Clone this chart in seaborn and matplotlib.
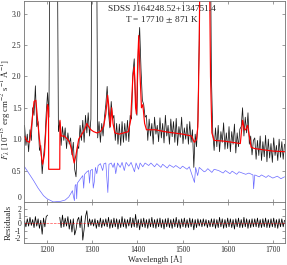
import numpy as np
import pandas as pd
import matplotlib
matplotlib.use("Agg")
import matplotlib.pyplot as plt
import seaborn as sns

wl = np.arange(1150, 1727, 3)
flux = [1.22, 0.90, 1.08, 0.80, 1.15, 0.98, 1.50, 1.38, 1.85, 1.20,
        1.28, 0.82, 0.90, 0.45, 0.72, 0.95, 1.42, 1.74, 1.35, 5.0,
        5.0, 5.0, 5.0, 5.0, 5.0, 1.12, 1.28, 0.90, 1.20, 0.98,
        1.18, 0.85, 1.10, 0.92, 1.02, 0.75, 0.95, 0.52, 0.40, 0.90,
        0.85, 1.22, 0.98, 1.30, 0.95, 1.38, 1.10, 1.42, 1.05, 1.32,
        5.0, 5.0, 5.0, 5.0, 1.02, 1.28, 0.95, 1.25, 1.05, 1.35,
        1.55, 1.84, 1.42, 1.18, 1.60, 1.32, 1.38, 0.98, 1.25, 0.92,
        1.24, 0.90, 1.28, 0.95, 1.25, 0.98, 1.30, 0.96, 1.38, 1.32,
        2.05, 2.28, 1.58, 1.38, 2.42, 2.78, 2.12, 1.62, 1.55, 1.35,
        1.38, 0.98, 1.32, 1.05, 1.25, 0.92, 1.35, 1.08, 1.22, 0.96,
        1.34, 1.02, 1.25, 0.94, 1.38, 1.05, 1.22, 0.92, 1.32, 1.04,
        1.28, 0.95, 1.33, 0.90, 1.20, 1.03, 1.35, 0.93, 1.18, 1.00,
        1.24, 0.92, 1.28, 0.95, 1.15, 0.55, 1.08, 0.88, 1.30, 2.60,
        5.0, 5.0, 5.0, 5.0, 5.0, 5.0, 5.0, 5.0, 2.00, 1.10,
        0.82, 1.18, 0.88, 1.22, 0.80, 1.12, 0.95, 1.26, 0.84, 1.10,
        0.85, 1.20, 0.80, 1.12, 0.92, 1.24, 0.78, 1.10, 0.88, 1.16,
        1.20, 1.50, 1.05, 1.35, 1.10, 1.42, 0.92, 1.05, 0.75, 0.98,
        1.02, 0.68, 0.98, 0.74, 1.05, 0.66, 0.96, 0.72, 1.06, 0.64,
        1.00, 0.70, 0.93, 0.63, 1.02, 0.74, 0.90, 0.66, 1.00, 0.71,
        0.96, 0.68, 0.92]

# smoothed spectrum
red_wl = [1150, 1155, 1161, 1166, 1171, 1175, 1179, 1183, 1187, 1190,
          1194, 1198, 1201, 1203, 1203.5, 1228, 1228.5, 1231, 1238, 1245,
          1250, 1255, 1260, 1264, 1270, 1277, 1283, 1288, 1292, 1297,
          1303, 1310, 1318, 1325, 1330, 1334, 1337, 1340, 1343, 1346,
          1350, 1360, 1370, 1380, 1385, 1390, 1393, 1396, 1398, 1401,
          1403, 1406, 1409, 1412, 1416, 1420, 1440, 1460, 1480, 1500,
          1520, 1526, 1531, 1534, 1537, 1540, 1558, 1562, 1565, 1570,
          1590, 1610, 1628, 1633, 1637, 1640, 1644, 1648, 1652, 1660,
          1680, 1700, 1726]
red_flux = [1.05, 0.97, 0.95, 1.25, 1.6, 1.62, 1.3, 1.0, 0.75, 0.6,
            0.75, 1.25, 1.55, 1.5, 0.52, 0.52, 1.3, 1.05, 1.05, 1.0,
            0.95, 0.8, 0.62, 0.75, 1.0, 1.08, 1.15, 1.25, 1.2, 1.15,
            1.12, 1.1, 1.12, 1.2, 1.4, 1.7, 1.5, 1.2, 1.5, 1.25,
            1.1, 1.08, 1.1, 1.12, 1.3, 2.0, 2.15, 1.5, 1.4, 2.3,
            2.65, 2.0, 1.5, 1.55, 1.25, 1.15, 1.15, 1.12, 1.1, 1.08,
            1.05, 0.95, 1.0, 1.2, 2.5, 5.0, 5.0, 2.0, 1.1, 0.98,
            0.97, 0.95, 0.93, 1.3, 1.15, 1.15, 1.22, 1.05, 0.87, 0.85,
            0.83, 0.81, 0.8]

# white dwarf model
blue_wl = [1150, 1160, 1170, 1180, 1192, 1200, 1214, 1230, 1240, 1248,
           1253, 1256, 1258, 1260.5, 1262, 1264, 1265.5, 1267, 1272, 1276,
           1279, 1281, 1283, 1288, 1292, 1294, 1296, 1300, 1302.2, 1304.5,
           1307, 1310, 1313, 1318, 1323, 1326, 1330, 1334.5, 1337, 1342,
           1346, 1349, 1352, 1356, 1362, 1366, 1371, 1375, 1381, 1386,
           1393.5, 1397, 1402.5, 1406, 1412, 1417, 1425, 1430, 1438, 1443,
           1452, 1456, 1466, 1471, 1480, 1485, 1495, 1500, 1510, 1515,
           1526.5, 1529, 1533.5, 1537, 1548, 1551, 1556, 1565, 1570, 1580,
           1590, 1595, 1605, 1610, 1620, 1625, 1640, 1647, 1656, 1657.5,
           1660, 1670, 1675, 1685, 1690, 1700, 1710, 1718, 1726]
blue_flux = [0.56, 0.45, 0.34, 0.22, 0.10, 0.05, 0.00, 0.01, 0.03, 0.08,
             0.14, 0.18, 0.10, 0.02, 0.26, 0.28, 0.05, 0.30, 0.35, 0.39,
             0.42, 0.22, 0.44, 0.48, 0.50, 0.30, 0.50, 0.52, 0.22, 0.32,
             0.55, 0.45, 0.58, 0.61, 0.50, 0.61, 0.62, 0.15, 0.60, 0.62,
             0.55, 0.62, 0.45, 0.62, 0.55, 0.63, 0.50, 0.63, 0.57, 0.63,
             0.48, 0.62, 0.52, 0.62, 0.56, 0.62, 0.58, 0.62, 0.56, 0.61,
             0.55, 0.60, 0.54, 0.59, 0.55, 0.58, 0.53, 0.57, 0.52, 0.56,
             0.31, 0.55, 0.42, 0.55, 0.48, 0.49, 0.53, 0.47, 0.52, 0.50,
             0.46, 0.50, 0.45, 0.49, 0.44, 0.48, 0.44, 0.46, 0.43, 0.21,
             0.43, 0.40, 0.43, 0.39, 0.42, 0.38, 0.41, 0.37, 0.40]

# residuals on the same grid, nan = masked
nan = np.nan
resid = [0.3, -0.5, 0.6, -0.4, 0.8, -0.3, 0.5, -0.6, 0.9, -0.4,
         0.6, -0.7, 0.4, -1.5, 0.7, -0.5, 0.9, 1.1, nan, nan,
         nan, nan, nan, nan, nan, nan, 0.8, -0.6, 1.1, -0.5,
         0.7, -0.4, 0.9, -0.8, 0.5, -1.2, 0.6, -1.6, -0.9, 0.4,
         0.8, -0.6, 1.0, -2.3, -0.8, 0.9, 1.7, -0.5, 0.6, -0.3,
         0.5, -0.4, 0.6, -0.7, 0.4, -0.5, 0.7, -0.6, 0.5, -0.4,
         0.6, -0.5, 0.8, -0.7, 0.5, -0.6, 0.7, -0.5, 0.6, -0.8,
         0.5, -0.6, 0.9, -0.5, 0.6, -0.7, 0.5, -0.4, 0.8, -0.6,
         0.7, -0.5, 1.2, -0.6, 0.5, -0.9, 0.6, -0.5, 0.7, -0.6,
         0.5, -0.7, 0.6, -0.5, 0.8, -0.6, 0.5, -0.7, 0.6, -0.5,
         0.7, -0.6, 0.5, -0.8, 0.6, -0.5, 0.7, -0.6, 0.5, -0.7,
         0.6, -0.5, 0.8, -0.6, 0.5, -0.7, 0.6, -0.5, 0.7, -0.6,
         0.5, -0.6, 0.7, -0.5, 0.6, -0.9, 0.5, -0.6, 0.6, -0.4,
         0.5, -0.5, 0.6, -0.4, 0.5, -0.6, 0.4, -0.5, 0.6, -0.5,
         0.6, -0.7, 0.5, -0.6, 0.8, -0.5, 0.6, -0.7, 0.5, -0.6,
         0.7, -0.5, 0.6, -0.6, 0.5, -0.8, 0.6, -0.5, 0.7, -0.6,
         0.5, -0.6, 0.8, -0.5, 0.6, -0.7, 0.5, -0.6, 0.6, -0.5,
         0.6, -0.5, 0.7, -0.6, 0.5, -0.6, 0.6, -0.5, 0.7, -0.6,
         0.5, -0.6, 0.6, -0.5, 0.7, -0.6, 0.5, -0.7, 0.6, -0.5,
         0.6, -0.5, 0.4]

sns.set_style("ticks")
plt.rcParams["font.family"] = ["Liberation Serif", "DejaVu Serif"]
plt.rcParams["mathtext.fontset"] = "stix"
plt.rcParams["font.size"] = 6

spec = pd.DataFrame({"wl": wl, "flux": flux, "resid": resid})
smooth = pd.DataFrame({"wl": red_wl, "flux": red_flux})
model = pd.DataFrame({"wl": blue_wl, "flux": blue_flux})

fig = plt.figure(figsize=(2.87, 2.65), dpi=100)
ax = fig.add_axes([0.084, 0.238, 0.909, 0.758])
axr = fig.add_axes([0.084, 0.083, 0.909, 0.155], sharex=ax)

sns.lineplot(data=spec, x="wl", y="flux", color="k", lw=0.55, alpha=0.9, ax=ax)
sns.lineplot(data=smooth, x="wl", y="flux", color="red", lw=0.85, ax=ax)
sns.lineplot(data=model, x="wl", y="flux", color="#6a6aff", lw=0.5, ax=ax)

ax.text(1455, 2.98, "SDSS J164248.52+134751.4\nT = 17710 $\\pm$ 871 K",
        ha="center", va="center", fontsize=6.7, linespacing=1.2)

lo = spec[spec.wl < 1205]
hi = spec[spec.wl > 1225]
sns.lineplot(data=lo, x="wl", y="resid", color="k", lw=0.55, ax=axr)
sns.lineplot(data=hi, x="wl", y="resid", color="k", lw=0.55, ax=axr)
axr.axhline(0, color="red", lw=0.5, ls="--", alpha=0.7)

ax.set_xlim(1149, 1727)
ax.set_ylim(0, 3.2)
axr.set_ylim(-2.7, 2.9)
ax.set_yticks([0, 0.5, 1.0, 1.5, 2.0, 2.5, 3.0])
ax.set_yticklabels(["0", "0.5", "1.0", "1.5", "2.0", "2.5", "3.0"])
axr.set_yticks([-2, -1, 0, 1, 2])
axr.set_yticklabels(["-2", "-1", "0", "1", "2"])
axr.set_xticks([1200, 1300, 1400, 1500, 1600, 1700])
ax.tick_params(labelbottom=False)

for a in (ax, axr):
    a.tick_params(direction="in", top=True, right=True, length=2.5,
                  width=0.5, color="0.45", labelsize=5.5, pad=2)
    for s in a.spines.values():
        s.set_color("0.45")
        s.set_linewidth(0.6)
ax.get_yticklabels()[0].set_va("bottom")

ax.set_xlabel("")
ax.set_ylabel("$F_{\\lambda}$ [10$^{-15}$ erg cm$^{-2}$ s$^{-1}$ Å$^{-1}$]",
              fontsize=6.3)
ax.yaxis.set_label_coords(-0.043, 0.46)
axr.set_ylabel("Residuals", fontsize=6.5)
axr.yaxis.set_label_coords(-0.043, 0.5)
axr.set_xlabel("Wavelength [Å]", fontsize=6, labelpad=1)

fig.savefig("out.png", dpi=100)
